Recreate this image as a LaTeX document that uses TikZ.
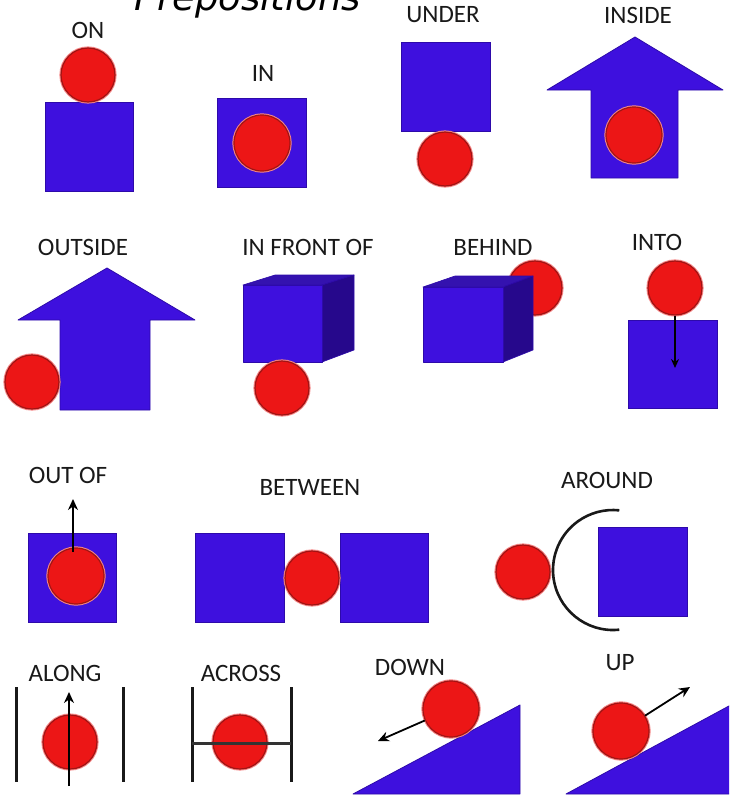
\documentclass[tikz,border=0pt]{standalone}
\usepackage{fontspec}
\newfontfamily\labfont{Carlito}
\newfontfamily\titlefont{DejaVu Sans}
\usetikzlibrary{arrows.meta}
\definecolor{bl}{RGB}{62,16,222}
\definecolor{bldark}{RGB}{45,10,170}
\definecolor{blside}{RGB}{38,8,140}
\definecolor{bltop}{RGB}{52,18,175}
\definecolor{rd}{RGB}{236,22,22}
\definecolor{rddark}{RGB}{160,20,20}
\definecolor{rdhalo}{RGB}{245,135,135}
\tikzset{
  lab/.style={font=\labfont\fontsize{25}{25}\selectfont, inner sep=0pt, text=black!90},
  ball/.style={circle, fill=rd, draw=rddark, line width=1.2pt, minimum size=54pt, inner sep=0pt,
    preaction={draw=rdhalo, line width=3.2pt}},
  bluesq/.style={rectangle, fill=bl, draw=bldark, line width=0.8pt, inner sep=0pt},
  blueshape/.style={fill=bl, draw=bldark, line width=0.8pt, line join=round},
  arr/.style={draw=black, line width=2.2pt, -{Stealth[length=11pt,width=10pt]}},
  bar/.style={draw=black!90, line width=3pt},
}
\begin{document}
\begin{tikzpicture}[x=1pt,y=-1pt]
\useasboundingbox (0,0) rectangle (729,803);
\clip (0,0) rectangle (729,803);
\fill[white] (0,0) rectangle (729,803);
% title (cut off at the top, as in the reference)
\node[anchor=base, inner sep=0pt] (title) at (248,10) {\titlefont\fontsize{37}{37}\selectfont\itshape Prepositions};

% ON
\node[lab] (lon) at (88,30) {ON};
\node[bluesq, minimum width=88pt, minimum height=89pt] (onsq) at (89,146.5) {};
\node[ball] (onb) at (88,75) {};

% IN
\node[lab] (lin) at (263,73) {IN};
\node[bluesq, minimum width=89pt, minimum height=89pt] (insq) at (261.5,142.5) {};
\node[ball, minimum size=56pt] (inb) at (262,143) {};

% UNDER
\node[lab] (lunder) at (443,15) {UNDER};
\node[bluesq, minimum width=89pt, minimum height=89pt] (undersq) at (445.5,86.5) {};
\node[ball] (underb) at (445,159) {};

% INSIDE
\node[lab] (linside) at (638,15) {INSIDE};
\path[blueshape] (635,37) -- (723,90) -- (678,90) -- (678,178) -- (591,178) -- (591,90) -- (547,90) -- cycle;
\node[ball, minimum size=56pt] (insideb) at (634,135) {};

% OUTSIDE
\node[lab] (loutside) at (83,247) {OUTSIDE};
\path[blueshape] (107,268) -- (195,320) -- (150,320) -- (150,410) -- (60,410) -- (60,320) -- (18,320) -- cycle;
\node[ball] (outsideb) at (32,382) {};

% IN FRONT OF
\node[lab] (lfront) at (308,247) {IN FRONT OF};
\path[fill=bltop, draw=bldark, line width=0.6pt, line join=round] (243,285) -- (275,275) -- (354,275) -- (322,285) -- cycle;
\path[fill=blside, draw=bldark, line width=0.6pt, line join=round] (322,285) -- (354,275) -- (354,350) -- (322,362) -- cycle;
\path[blueshape] (243,285) rectangle (322,362);
\node[ball] (frontb) at (282,388) {};

% BEHIND
\node[lab] (lbehind) at (493,247) {BEHIND};
\node[ball] (behindb) at (535,288) {};
\path[fill=bltop, draw=bldark, line width=0.6pt, line join=round] (423,287) -- (455,276) -- (533,276) -- (503,287) -- cycle;
\path[fill=blside, draw=bldark, line width=0.6pt, line join=round] (503,287) -- (533,276) -- (533,350) -- (503,362) -- cycle;
\path[blueshape] (423,287) rectangle (503,362);

% INTO
\node[lab] (linto) at (657,242) {INTO};
\node[bluesq, minimum width=89pt, minimum height=88pt] (intosq) at (672.5,364) {};
\node[ball] (intob) at (675,288) {};
\coordinate (intoend) at (675,368);
\draw[arr, line width=1.6pt, -{Stealth[length=9pt,width=8pt]}] (intob.south) -- (intoend);

% OUT OF
\node[lab] (loutof) at (68,475) {OUT OF};
\node[bluesq, minimum width=88pt, minimum height=89pt] (outofsq) at (72,577.5) {};
\node[ball, minimum size=56pt] (outofb) at (76,576) {};
\coordinate (outofstart) at (73,552);
\coordinate (outofend) at (73,499);
\draw[arr] (outofstart) -- (outofend);

% BETWEEN
\node[lab] (lbetween) at (310,487) {BETWEEN};
\node[bluesq, minimum width=89pt, minimum height=89pt] (betl) at (239.5,577.5) {};
\node[bluesq, minimum width=88pt, minimum height=89pt] (betr) at (384,577.5) {};
\node[ball] (betb) at (312,578) {};

% AROUND
\node[lab] (laround) at (607,480) {AROUND};
\node[bluesq, minimum width=89pt, minimum height=89pt] (aroundsq) at (642.5,571.5) {};
\node[ball] (aroundb) at (523,572) {};
\coordinate (arcc) at (613,570);
\draw[bar, line width=2.6pt] (arcc) ++(84:60) arc[start angle=84, end angle=276, radius=60];

% ALONG
\node[lab] (lalong) at (65,673) {ALONG};
\coordinate (al1t) at (16,687); \coordinate (al1b) at (16,782);
\coordinate (al2t) at (123,687); \coordinate (al2b) at (123,782);
\draw[bar] (al1t) -- (al1b);
\draw[bar] (al2t) -- (al2b);
\node[ball] (alongb) at (70,742) {};
\coordinate (alstart) at (69,786); \coordinate (alend) at (69,692);
\draw[arr] (alstart) -- (alend);

% ACROSS
\node[lab] (lacross) at (241,673) {ACROSS};
\coordinate (ac1t) at (192,687); \coordinate (ac1b) at (192,782);
\coordinate (ac2t) at (291,687); \coordinate (ac2b) at (291,782);
\draw[bar] (ac1t) -- (ac1b);
\draw[bar] (ac2t) -- (ac2b);
\node[ball] (acrossb) at (240,742) {};
\coordinate (acl) at (192,743); \coordinate (acr) at (291,743);
\draw[bar, draw=black!80] (acl) -- (acr);

% DOWN
\node[lab] (ldown) at (410,667) {DOWN};
\path[blueshape] (353,794) -- (520,794) -- (520,705) -- cycle;
\node[ball, minimum size=56pt] (downb) at (451,709) {};
\coordinate (downend) at (378,741);
\draw[arr, line width=1.8pt] (downb) -- (downend);

% UP
\node[lab] (lup) at (620,663) {UP};
\path[blueshape] (566,794) -- (740,794) -- (740,700) -- cycle;
\node[ball, minimum size=56pt] (upb) at (621,731) {};
\coordinate (upend) at (690,687);
\draw[arr, line width=1.8pt] (upb) -- (upend);
\end{tikzpicture}
\end{document}
